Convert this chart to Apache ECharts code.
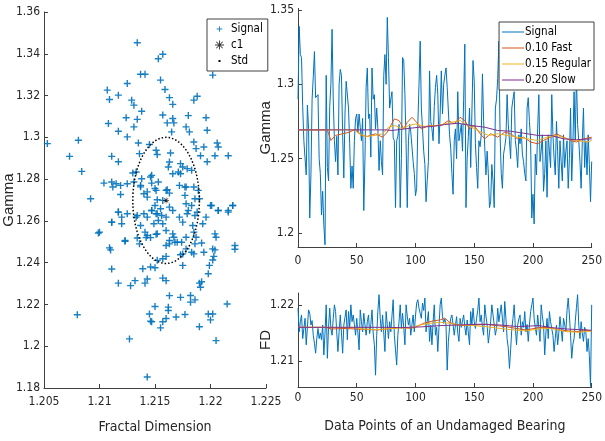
<!DOCTYPE html>
<html><head><meta charset="utf-8">
<script src="https://cdn.jsdelivr.net/npm/echarts@6/dist/echarts.min.js"></script>
<style>html,body{margin:0;padding:0;background:#fff}#c{width:605px;height:441px}</style>
</head><body><div id="c"></div>
<script>
// ---------- DATA ----------
const fdScatter = [
1.2053,1.2081,1.2073,1.2084,1.2092,1.2134,1.2153,1.2157,1.2137,1.2141,1.2125,1.2107,1.2109,1.2117,1.2129,1.2131,1.2138,1.2155,1.2159,1.2163,
1.2166,1.2185,1.2188,1.2202,1.2108,1.2124,1.2131,1.2134,1.2117,1.2125,1.2157,1.2161,1.2166,1.2167,1.2165,1.2180,1.2178,1.2181,1.2196,1.2197,
1.2135,1.2145,1.2136,1.2151,1.2152,1.2164,1.2185,1.2187,1.2191,1.2194,1.2204,1.2206,1.2207,1.2216,1.2197,1.2111,1.2117,1.2104,1.2112,1.2115,
1.2119,1.2125,1.2130,1.2133,1.2131,1.2137,1.2140,1.2143,1.2147,1.2147,1.2151,1.2152,1.2163,1.2162,1.2166,1.2161,1.2163,1.2157,1.2155,1.2166,
1.2173,1.2175,1.2179,1.2183,1.2173,1.2177,1.2185,1.2177,1.2189,1.2190,1.2183,1.2179,1.2188,1.2200,1.2207,1.2216,1.2220,1.2117,1.2125,1.2133,
1.2140,1.2147,1.2151,1.2160,
1.2100,1.2109,1.2111,1.2110,1.2123,1.2111,1.2120,1.2117,1.2128,1.2132,1.2141,1.2143,1.2139,1.2146,1.2150,1.2152,1.2157,1.2160,1.2163,1.2173,
1.2182,1.2182,1.2186,1.2190,1.2191,1.2192,1.2198,1.2199,1.2202,1.2203,1.2202,1.2204,1.2205,1.2222,1.2215,1.2198,1.2202,1.2200,1.2205,1.2190,
1.2177,1.2169,1.2162,1.2162,1.2160,1.2157,1.2155,1.2147,1.2145,1.2146,1.2080,1.2127,1.2143,1.2150,1.2142,1.2146,1.2151,1.2163,1.2167,1.2174,
1.2178,1.2185,1.2186,1.2183,1.2185,1.2194,1.2192,1.2157,1.2160,1.2173,1.2175,1.2163,1.2170,1.2134,1.2136,1.2149,1.2157,
1.2138,1.2146,1.2137,1.2143,1.2150,1.2153,1.2160,1.2163,1.2150,1.2147,1.2143,1.2152,1.2153,1.2156,1.2137,1.2141,1.2143,1.2152,1.2160,1.2166,
1.2168,1.2160,1.2172,1.2175,1.2180,1.2178,1.2186,1.2186,1.2184,1.2187,1.2175,1.2178,1.2172,1.2178,1.2171,1.2119,1.2111,1.2120,1.2111,1.2134,
1.2117,1.2099,1.2123,1.2201,1.2207,1.2220,1.2216,1.2204,1.2222,1.2193,1.2196
];
const gammaScatter = [
1.2970,1.2986,1.2909,1.2837,1.2706,1.3453,1.3376,1.3398,1.3302,1.3302,1.3258,1.3226,1.3181,1.3202,1.3178,1.3154,1.3125,1.3274,1.3229,1.3190,
1.3158,1.3178,1.3197,1.3298,1.3066,1.3094,1.3050,1.3086,1.3029,1.3002,1.3107,1.3069,1.3090,1.3069,1.3026,1.3104,1.3050,1.3026,1.3094,1.3034,
1.2973,1.2966,1.2922,1.2938,1.2918,1.2925,1.2978,1.2946,1.2912,1.2954,1.2912,1.2973,1.2954,1.2912,1.2883,1.2909,1.2883,1.2781,1.2762,1.2778,
1.2726,1.2778,1.2829,1.2834,1.2786,1.2770,1.2730,1.2714,1.2781,1.2818,1.2746,1.2701,1.2882,1.2858,1.2826,1.2749,1.2733,1.2698,1.2658,1.2650,
1.2874,1.2858,1.2850,1.2842,1.2826,1.2762,1.2762,1.2722,1.2746,1.2706,1.2674,1.2634,1.2642,1.2674,1.2650,1.2642,1.2674,1.2642,1.2634,1.2618,
1.2634,1.2650,1.2634,1.2618,
1.2546,1.2471,1.2370,1.2461,1.2502,1.2594,1.2586,1.2302,1.2290,1.2314,1.2302,1.2322,1.2371,1.2379,1.2376,1.2411,1.2326,1.2314,1.2242,1.2234,
1.2243,1.2211,1.2222,1.2302,1.2282,1.2309,1.2347,1.2387,1.2413,1.2430,1.2466,1.2461,1.2522,1.2464,1.2202,1.2154,1.2154,1.2126,1.2027,1.2093,
1.2152,1.2140,1.2187,1.2171,1.2133,1.2117,1.2088,1.2117,1.2154,1.2120,1.2151,1.2035,1.1853,1.2190,1.2520,1.2520,1.2536,1.2506,1.2522,1.2498,
1.2522,1.2546,1.2490,1.2450,1.2442,1.2450,1.2494,1.2419,1.2430,1.2438,1.2387,1.2490,1.2498,1.2518,1.2490,1.2586,1.2586,
1.2802,1.2810,1.2763,1.2739,1.2755,1.2786,1.2746,1.2666,1.2674,1.2650,1.2618,1.2634,1.2602,1.2626,1.2578,1.2546,1.2530,1.2538,1.2554,1.2538,
1.2498,1.2482,1.2618,1.2594,1.2650,1.2682,1.2706,1.2626,1.2578,1.2522,1.2442,1.2466,1.2770,1.2762,1.2834,1.2770,1.2786,1.2618,1.2594,1.2626,
1.2642,1.2542,1.2506,1.2674,1.2650,1.2674,1.2650,1.2538,1.2482,1.2586,1.2618
];
const c1 = [1.2160, 1.2698];
const stdFD = 0.0030, stdGamma = 0.0302;

const gammaSignal = [
1.290,1.339,1.320,1.318,1.285,1.262,1.250,1.239,1.286,1.270,1.210,1.239,1.290,1.305,1.322,1.291,1.291,1.293,1.250,1.240,
1.212,1.228,1.205,1.192,1.306,1.244,1.235,1.285,1.300,1.337,1.290,1.262,1.248,1.265,1.239,1.300,1.310,1.306,1.266,1.237,
1.280,1.302,1.302,1.284,1.260,1.230,1.245,1.230,1.262,1.277,1.280,1.268,1.280,1.271,1.262,1.277,1.215,1.250,1.298,1.311,
1.277,1.280,1.251,1.311,1.290,1.293,1.270,1.284,1.270,1.242,1.262,1.248,1.239,1.306,1.320,1.300,1.345,1.318,1.284,1.290,
1.295,1.264,1.262,1.217,1.262,1.265,1.273,1.217,1.250,1.318,1.316,1.293,1.260,1.217,1.262,1.273,1.268,1.258,1.248,1.240,
1.225,1.230,1.273,1.300,1.329,1.284,1.270,1.255,1.246,1.221,1.235,1.248,1.309,1.275,1.270,1.262,1.285,1.298,1.306,1.293,
1.260,1.280,1.309,1.280,1.300,1.306,1.311,1.298,1.297,1.266,1.257,1.240,1.226,1.262,1.270,1.250,1.295,1.262,1.262,1.273,
1.255,1.290,1.327,1.217,1.250,1.265,1.284,1.244,1.280,1.316,1.302,1.260,1.244,1.230,1.262,1.258,1.266,1.307,1.275,1.257,
1.239,1.255,1.240,1.217,1.221,1.246,1.235,1.217,1.284,1.290,1.304,1.329,1.266,1.240,1.230,1.253,1.258,1.264,1.293,1.273,
1.262,1.250,1.284,1.290,1.295,1.262,1.255,1.244,1.266,1.260,1.270,1.253,1.248,1.240,1.235,1.284,1.291,1.275,1.262,1.210,
1.226,1.206,1.253,1.239,1.270,1.293,1.248,1.255,1.266,1.228,1.240,1.262,1.224,1.266,1.255,1.244,1.293,1.266,1.250,1.239,
1.275,1.255,1.230,1.262,1.248,1.235,1.266,1.244,1.255,1.262,1.230,1.250,1.284,1.235,1.260,1.295,1.262,1.306,1.273,1.262,
1.248,1.230,1.262,1.284,1.244,1.262,1.239,1.266,1.246,1.221,1.248
];
const gammaFast = [[0,1.2693],[25,1.2693],[28,1.2622],[32,1.2656],[38,1.2667],[44,1.2678],[49,1.2700],[54,1.2656],[59,1.2649],[66,1.2667],[72,1.2644],[76,1.2678],[82,1.2767],[86,1.2756],[90,1.2700],[93,1.2744],[97,1.2778],[101,1.2744],[105,1.2700],[111,1.2722],[117,1.2722],[122,1.2722],[128,1.2756],[133,1.2733],[138,1.2778],[142,1.2756],[146,1.2700],[150,1.2722],[155,1.2667],[159,1.2633],[164,1.2667],[170,1.2644],[176,1.2678],[181,1.2667],[187,1.2633],[192,1.2644],[198,1.2611],[204,1.2600],[209,1.2622],[215,1.2644],[220,1.2667],[226,1.2644],[232,1.2622],[237,1.2611],[243,1.2633],[250,1.2644]];
const gammaRegular = [[0,1.2693],[48,1.2693],[52,1.2667],[58,1.2649],[66,1.2656],[72,1.2667],[77,1.2711],[83,1.2722],[89,1.2700],[94,1.2722],[100,1.2733],[108,1.2716],[117,1.2722],[125,1.2733],[131,1.2744],[138,1.2756],[145,1.2722],[153,1.2689],[162,1.2656],[170,1.2667],[178,1.2656],[187,1.2644],[195,1.2633],[204,1.2622],[212,1.2644],[220,1.2656],[229,1.2633],[237,1.2622],[246,1.2611],[250,1.2622]];
const gammaSlow = [[0,1.2693],[75,1.2693],[80,1.2689],[91,1.2700],[103,1.2711],[114,1.2716],[125,1.2729],[136,1.2738],[148,1.2722],[159,1.2711],[170,1.2689],[181,1.2684],[192,1.2671],[204,1.2656],[215,1.2656],[226,1.2633],[237,1.2627],[250,1.2633]];

const fdSignal = [
1.2194,1.2152,1.2170,1.2182,1.2140,1.2158,1.2176, 1.2129,1.2160,1.2191,1.2185,1.2164,1.2172,1.2146, 1.2132,1.2114,1.2140,1.2158,1.2140,1.2150,1.2138,
1.2164,1.2111,1.2150,1.2200,1.2105,1.2160,1.2194, 1.2158,1.2146,1.2176,1.2200,1.2188,1.2150,1.2117, 1.2152,1.2182,1.2150,1.2114,1.2164,1.2178,1.2191,
1.2138,1.2188,1.2160,1.2200,1.2170,1.2182,1.2165, 1.2146,1.2176,1.2150,1.2120,1.2191,1.2170,1.2152, 1.2185,1.2164,1.2146,1.2170,1.2182,1.2149,1.2165,
1.2191,1.2150,1.2129,1.2075,1.2146,1.2190,1.2218, 1.2176,1.2152,1.2182,1.2150,1.2117,1.2188,1.2165, 1.2140,1.2170,1.2152,1.2180,1.2209,1.2146,1.2120,
1.2093,1.2146,1.2170,1.2200,1.2158,1.2185,1.2160, 1.2129,1.2200,1.2180,1.2164,1.2176,1.2146,1.2165, 1.2182,1.2152,1.2180,1.2203,1.2209,1.2194,1.2185,
1.2176,1.2203,1.2190,1.2212,1.2152,1.2170,1.2188, 1.2135,1.2164,1.2129,1.2170,1.2200,1.2146,1.2160, 1.2117,1.2160,1.2200,1.2212,1.2179,1.2167,1.2175,
1.2164,1.2084,1.2135,1.2160,1.2176,1.2182,1.2165, 1.2146,1.2164,1.2179,1.2150,1.2135,1.2176,1.2160, 1.2158,1.2182,1.2160,1.2146,1.2173,1.2150,1.2129,
1.2188,1.2164,1.2194,1.2170,1.2158,1.2176,1.2190, 1.2212,1.2170,1.2182,1.2160,1.2146,1.2200,1.2180, 1.2164,1.2132,1.2150,1.2170,1.2200,1.2182,1.2165,
1.2146,1.2158,1.2194,1.2170,1.2185,1.2200,1.2175, 1.2152,1.2206,1.2175,1.2140,1.2123,1.2087,1.2120, 1.2158,1.2176,1.2200,1.2160,1.2129,1.2164,1.2175,
1.2182,1.2146,1.2170,1.2160,1.2188,1.2152,1.2165, 1.2135,1.2164,1.2188,1.2200,1.2212,1.2176,1.2160, 1.2146,1.2182,1.2160,1.2135,1.2200,1.2180,1.2164,
1.2111,1.2150,1.2176,1.2140,1.2188,1.2170,1.2158, 1.2146,1.2117,1.2140,1.2164,1.2129,1.2150,1.2179, 1.2158,1.2135,1.2176,1.2165,1.2152,1.2190,1.2212,
1.2182,1.2146,1.2105,1.2130,1.2140,1.2170,1.2195, 1.2218,1.2164,1.2140,1.2170,1.2150,1.2135,1.2160, 1.2152,1.2117,1.2140,1.2110,1.2055,1.2200
];
const fdFast = [[0,1.2160],[24,1.2160],[28,1.2157],[40,1.2158],[54,1.21565],[68,1.21554],[76,1.21571],[87,1.21595],[96,1.21583],[101,1.21613],[107,1.21673],[115,1.21714],[121,1.21732],[125,1.21762],[129,1.2169],[135,1.21643],[143,1.21631],[152,1.21643],[160,1.21655],[169,1.21631],[177,1.21613],[185,1.21583],[194,1.21554],[205,1.21595],[214,1.21595],[222,1.21554],[230,1.21536],[239,1.21524],[244,1.21554],[250,1.21536]];
const fdRegular = [[0,1.2160],[48,1.2160],[54,1.21571],[68,1.2156],[82,1.21583],[96,1.21595],[104,1.21643],[113,1.21673],[121,1.2169],[129,1.21673],[138,1.21643],[149,1.21631],[160,1.21613],[171,1.21583],[183,1.21554],[194,1.21536],[205,1.21571],[216,1.21583],[228,1.21524],[239,1.21512],[250,1.21536]];
const fdSlow = [[0,1.2160],[75,1.2160],[87,1.21595],[104,1.21607],[121,1.21631],[138,1.21643],[155,1.21655],[171,1.21643],[188,1.21613],[205,1.21631],[216,1.21595],[228,1.21571],[239,1.2156],[250,1.21548]];

const fdTicks = [1.205,1.21,1.215,1.22,1.225];
const gammaTicksL = [1.18,1.2,1.22,1.24,1.26,1.28,1.3,1.32,1.34,1.36];
const gammaTicksR = [1.2,1.25,1.3,1.35];
const fdTicksR = [1.21,1.22];
const idxTicks = [0,50,100,150,200,250];

// ---------- STYLE ----------
const NARROW = "'DejaVu Sans Condensed','Liberation Sans Narrow','Roboto Condensed','Liberation Sans',sans-serif";
const REG = "'Liberation Sans',Arial,sans-serif";
const AX = '#404040';
const BLUE = '#0072BD', ORANGE = '#D95319', YELLOW = '#EDB120', PURPLE = '#7E2F8E';
const PLUS = 'path://M4,0h2v4h4v2h-4v4h-2v-4h-4v-2h4z';
const PLUS_LEG = 'path://M0,0h0.01v0.01h-0.01z M16,16h-0.01v-0.01h0.01z M7.2,3h1.6v4.2h4.2v1.6h-4.2v4.2h-1.6v-4.2h-4.2v-1.6h4.2z';
const STAR = 'path://M4.5,0h1v10h-1z M0,4.5h10v1h-10z M1.1,1.8l0.7,-0.7l7.1,7.1l-0.7,0.7z M8.2,1.1l0.7,0.7l-7.1,7.1l-0.7,-0.7z';
const DOT = 'path://M0,0h0.01v0.01h-0.01z M10,10h-0.01v-0.01h0.01z M3.9,3.9h2.2v2.2h-2.2z';
const LINE_ICON = 'path://M0,0h0.01v0.01h-0.01z M0,5.4h22v1.2h-22z M22,12h-0.01v-0.01h0.01z';
const fmt = v => String(+(+v).toFixed(4));

function axis(o) {
  return Object.assign({
    type: 'value', splitLine: {show: false},
    axisLine: {show: true, onZero: false, lineStyle: {color: AX, width: 1}},
    axisTick: {show: true, inside: true, length: 4, lineStyle: {color: AX}, customValues: o.ticks},
    axisLabel: {color: '#262626', fontFamily: NARROW, fontSize: 12, margin: o.margin || 5, formatter: fmt, customValues: o.ticks, showMinLabel: true, showMaxLabel: true, hideOverlap: false},
    nameTextStyle: {color: '#262626', fontFamily: o.nameFont || NARROW, fontSize: o.nameSize || 14},
    nameLocation: 'middle', nameMoveOverlap: false
  }, o.extra);
}

const ell = [];
for (let k = 0; k <= 160; k++) {
  const t = 2 * Math.PI * k / 160;
  ell.push([c1[0] + stdFD * Math.cos(t), c1[1] + stdGamma * Math.sin(t)]);
}

const chart = echarts.init(document.getElementById('c'), null, {renderer: 'canvas'});
const lineS = (name, data, color, x, w) => ({
  type: 'line', name, data, xAxisIndex: x, yAxisIndex: x, symbol: 'none',
  lineStyle: {color, width: w || 1}, itemStyle: {color}, z: 3
});

chart.setOption({
  animation: false,
  backgroundColor: '#fff',
  grid: [
    {left: 44, top: 12, width: 222, height: 376},
    {left: 298, top: 8.5, width: 297, height: 238.5},
    {left: 298, top: 293, width: 297, height: 94}
  ],
  xAxis: [
    axis({ticks: fdTicks, margin: 8, extra: {gridIndex: 0, min: 1.205, max: 1.225, name: 'Fractal Dimension', nameGap: 32}}),
    axis({ticks: idxTicks, margin: 8, extra: {gridIndex: 1, min: 0, max: 250}}),
    axis({ticks: idxTicks, margin: 5, extra: {gridIndex: 2, min: 0, max: 250, name: 'Data Points of an Undamaged Bearing', nameGap: 32}})
  ],
  yAxis: [
    axis({ticks: gammaTicksL, margin: 4, nameFont: REG, nameSize: 15, extra: {gridIndex: 0, min: 1.18, max: 1.36, name: 'Gamma', nameGap: 28}}),
    axis({ticks: gammaTicksR, margin: 4, nameFont: REG, nameSize: 15, extra: {gridIndex: 1, min: 1.1905, max: 1.351, name: 'Gamma', nameGap: 25}}),
    axis({ticks: fdTicksR, margin: 4, nameFont: REG, nameSize: 15, extra: {gridIndex: 2, min: 1.2054, max: 1.2221, name: 'FD', nameGap: 25}})
  ],
  legend: [
    {
      left: 207, top: 19, orient: 'vertical', selectedMode: false,
      backgroundColor: '#fff', borderColor: AX, borderWidth: 1,
      padding: [4, 5, 4, 8], itemGap: 4, itemWidth: 9, itemHeight: 9,
      textStyle: {fontFamily: NARROW, fontSize: 11.5, color: '#000', padding: [0, 0, 0, 2]},
      data: [
        {name: 'Signal', icon: PLUS_LEG},
        {name: 'c1', icon: STAR},
        {name: 'Std', icon: DOT}
      ]
    },
    {
      right: 11, top: 22, orient: 'vertical', selectedMode: false,
      backgroundColor: '#fff', borderColor: AX, borderWidth: 1,
      padding: [4, 3, 4, 3], itemGap: 4, itemWidth: 22, itemHeight: 14,
      textStyle: {fontFamily: NARROW, fontSize: 11.5, color: '#000', padding: [0, 0, 0, -4]},
      data: [
        {name: 'Signal ', icon: LINE_ICON},
        {name: '0.10 Fast', icon: LINE_ICON},
        {name: '0.15 Regular', icon: LINE_ICON},
        {name: '0.20 Slow', icon: LINE_ICON}
      ]
    }
  ],
  series: [
    {
      type: 'scatter', name: 'Signal', xAxisIndex: 0, yAxisIndex: 0,
      data: fdScatter.map((v, i) => [v, gammaScatter[i]]),
      symbol: PLUS, symbolSize: 7, itemStyle: {color: BLUE, opacity: 0.9}
    },
    {
      type: 'line', name: 'Std', xAxisIndex: 0, yAxisIndex: 0, data: ell, symbol: 'none',
      lineStyle: {color: '#000', width: 1.5, type: [1.5, 2]}, itemStyle: {color: '#000'}, z: 4
    },
    {
      type: 'scatter', name: 'c1', xAxisIndex: 0, yAxisIndex: 0, data: [c1],
      symbol: STAR, symbolSize: 6, itemStyle: {color: '#000'}, z: 5
    },
    lineS('Signal ', gammaSignal.map((v, i) => [i, v]), BLUE, 1),
    lineS('0.10 Fast', gammaFast, ORANGE, 1),
    lineS('0.15 Regular', gammaRegular, YELLOW, 1),
    lineS('0.20 Slow', gammaSlow, PURPLE, 1),
    lineS('Signal ', fdSignal.map((v, i) => [i, v]), BLUE, 2),
    lineS('0.10 Fast', fdFast, ORANGE, 2),
    lineS('0.15 Regular', fdRegular, YELLOW, 2),
    lineS('0.20 Slow', fdSlow, PURPLE, 2)
  ]
});
</script></body></html>
